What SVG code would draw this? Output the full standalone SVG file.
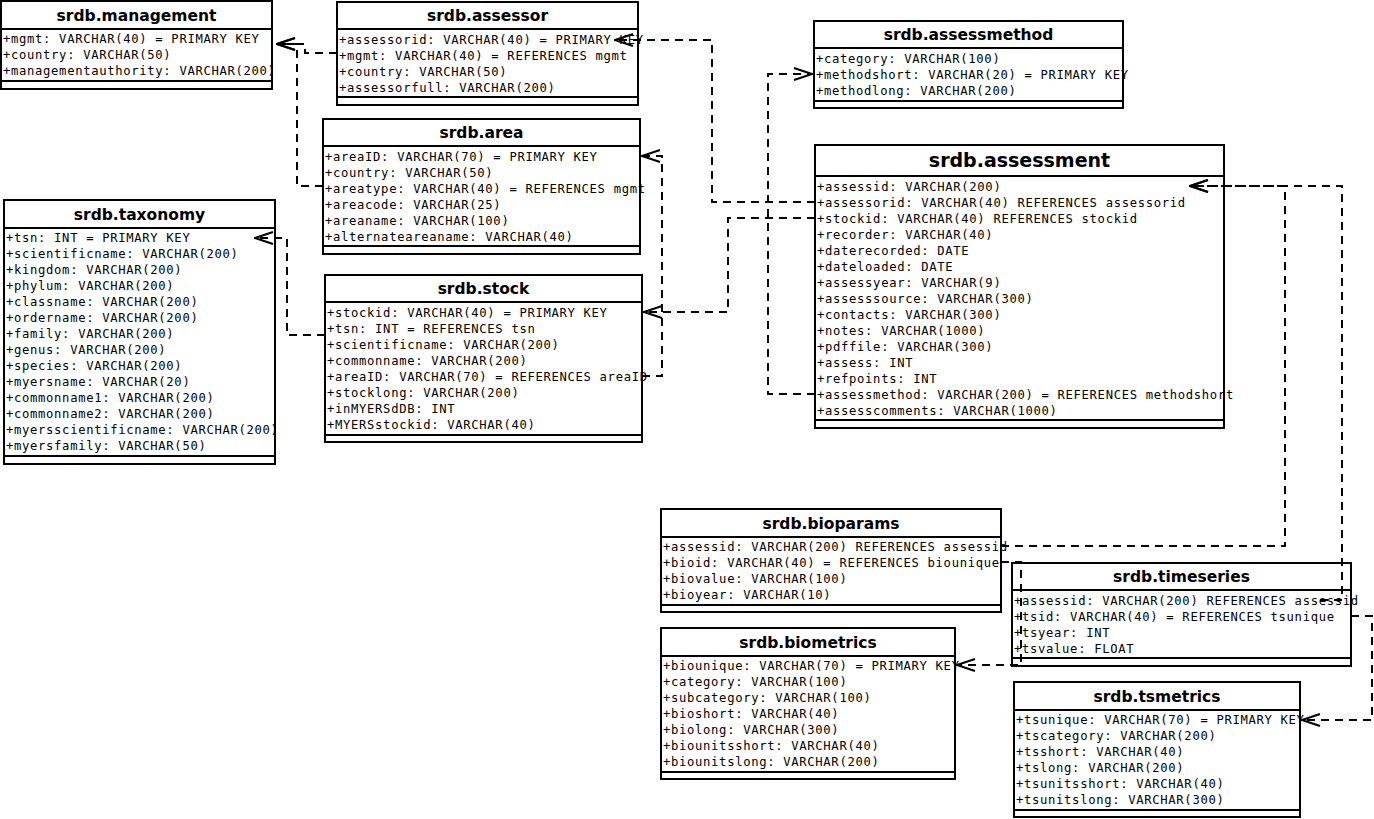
<svg xmlns="http://www.w3.org/2000/svg" width="1374" height="819" viewBox="0 0 1374 819">
<style>
.box{fill:#fff;stroke:#000;stroke-width:2}
.sep{stroke:#000;stroke-width:2}
.t{font-family:"DejaVu Sans","Liberation Sans",sans-serif;font-weight:bold;font-size:15.5px;text-anchor:middle;fill:#000}
.a{font-family:"DejaVu Sans Mono","Liberation Mono",monospace;font-size:12.2px;letter-spacing:0.68px;fill:#000}
.c{fill:none;stroke:#000;stroke-width:2;stroke-dasharray:8,6}
</style>
<defs>
<marker id="arr" viewBox="0 0 20 14" refX="19" refY="7" markerWidth="20" markerHeight="14" markerUnits="userSpaceOnUse" orient="auto">
<path d="M1,1 L19,7 L1,13" fill="none" stroke="#000" stroke-width="2" stroke-dasharray="none"/>
</marker>
</defs>

<g id="management">
<rect class="box" x="1" y="1" width="271" height="88"/>
<line class="sep" x1="1" y1="29" x2="272" y2="29"/>
<line class="sep" x1="1" y1="81" x2="272" y2="81"/>
<text class="t" x="136.5" y="20.5">srdb.management</text>
<text class="a" x="3" y="42.5">+mgmt: VARCHAR(40) = PRIMARY KEY</text>
<text class="a" x="3" y="58.5">+country: VARCHAR(50)</text>
<text class="a" x="3" y="74.5">+managementauthority: VARCHAR(200)</text>
</g>

<g id="assessor">
<rect class="box" x="337" y="2" width="301" height="103"/>
<line class="sep" x1="337" y1="29" x2="638" y2="29"/>
<line class="sep" x1="337" y1="97" x2="638" y2="97"/>
<text class="t" x="487.5" y="21">srdb.assessor</text>
<text class="a" x="339" y="43.5">+assessorid: VARCHAR(40) = PRIMARY KEY</text>
<text class="a" x="339" y="59.5">+mgmt: VARCHAR(40) = REFERENCES mgmt</text>
<text class="a" x="339" y="75.5">+country: VARCHAR(50)</text>
<text class="a" x="339" y="91.5">+assessorfull: VARCHAR(200)</text>
</g>

<g id="area">
<rect class="box" x="323" y="119" width="317" height="135"/>
<line class="sep" x1="323" y1="146" x2="640" y2="146"/>
<line class="sep" x1="323" y1="246" x2="640" y2="246"/>
<text class="t" x="481.5" y="138">srdb.area</text>
<text class="a" x="325" y="160.5">+areaID: VARCHAR(70) = PRIMARY KEY</text>
<text class="a" x="325" y="176.5">+country: VARCHAR(50)</text>
<text class="a" x="325" y="192.5">+areatype: VARCHAR(40) = REFERENCES mgmt</text>
<text class="a" x="325" y="208.5">+areacode: VARCHAR(25)</text>
<text class="a" x="325" y="224.5">+areaname: VARCHAR(100)</text>
<text class="a" x="325" y="240.5">+alternateareaname: VARCHAR(40)</text>
</g>

<g id="taxonomy">
<rect class="box" x="4" y="200" width="271" height="264"/>
<line class="sep" x1="4" y1="228" x2="275" y2="228"/>
<line class="sep" x1="4" y1="456" x2="275" y2="456"/>
<text class="t" x="139.5" y="219.5">srdb.taxonomy</text>
<text class="a" x="6" y="241.5">+tsn: INT = PRIMARY KEY</text>
<text class="a" x="6" y="257.5">+scientificname: VARCHAR(200)</text>
<text class="a" x="6" y="273.5">+kingdom: VARCHAR(200)</text>
<text class="a" x="6" y="289.5">+phylum: VARCHAR(200)</text>
<text class="a" x="6" y="305.5">+classname: VARCHAR(200)</text>
<text class="a" x="6" y="321.5">+ordername: VARCHAR(200)</text>
<text class="a" x="6" y="337.5">+family: VARCHAR(200)</text>
<text class="a" x="6" y="353.5">+genus: VARCHAR(200)</text>
<text class="a" x="6" y="369.5">+species: VARCHAR(200)</text>
<text class="a" x="6" y="385.5">+myersname: VARCHAR(20)</text>
<text class="a" x="6" y="401.5">+commonname1: VARCHAR(200)</text>
<text class="a" x="6" y="417.5">+commonname2: VARCHAR(200)</text>
<text class="a" x="6" y="433.5">+myersscientificname: VARCHAR(200)</text>
<text class="a" x="6" y="449.5">+myersfamily: VARCHAR(50)</text>
</g>

<g id="stock">
<rect class="box" x="325" y="275" width="317" height="167"/>
<line class="sep" x1="325" y1="302" x2="642" y2="302"/>
<line class="sep" x1="325" y1="435" x2="642" y2="435"/>
<text class="t" x="483.5" y="294">srdb.stock</text>
<text class="a" x="327" y="316.5">+stockid: VARCHAR(40) = PRIMARY KEY</text>
<text class="a" x="327" y="332.5">+tsn: INT = REFERENCES tsn</text>
<text class="a" x="327" y="348.5">+scientificname: VARCHAR(200)</text>
<text class="a" x="327" y="364.5">+commonname: VARCHAR(200)</text>
<text class="a" x="327" y="380.5">+areaID: VARCHAR(70) = REFERENCES areaID</text>
<text class="a" x="327" y="396.5">+stocklong: VARCHAR(200)</text>
<text class="a" x="327" y="412.5">+inMYERSdDB: INT</text>
<text class="a" x="327" y="428.5">+MYERSstockid: VARCHAR(40)</text>
</g>

<g id="assessmethod">
<rect class="box" x="814" y="21" width="309" height="87"/>
<line class="sep" x1="814" y1="48" x2="1123" y2="48"/>
<line class="sep" x1="814" y1="101" x2="1123" y2="101"/>
<text class="t" x="968.5" y="40">srdb.assessmethod</text>
<text class="a" x="816" y="62.5">+category: VARCHAR(100)</text>
<text class="a" x="816" y="78.5">+methodshort: VARCHAR(20) = PRIMARY KEY</text>
<text class="a" x="816" y="94.5">+methodlong: VARCHAR(200)</text>
</g>

<g id="assessment">
<rect class="box" x="815" y="145" width="409" height="283"/>
<line class="sep" x1="815" y1="176" x2="1224" y2="176"/>
<line class="sep" x1="815" y1="420" x2="1224" y2="420"/>
<text class="t" x="1019.5" y="167" style="font-size:19px">srdb.assessment</text>
<text class="a" x="817" y="190.5">+assessid: VARCHAR(200)</text>
<text class="a" x="817" y="206.5">+assessorid: VARCHAR(40) REFERENCES assessorid</text>
<text class="a" x="817" y="222.5">+stockid: VARCHAR(40) REFERENCES stockid</text>
<text class="a" x="817" y="238.5">+recorder: VARCHAR(40)</text>
<text class="a" x="817" y="254.5">+daterecorded: DATE</text>
<text class="a" x="817" y="270.5">+dateloaded: DATE</text>
<text class="a" x="817" y="286.5">+assessyear: VARCHAR(9)</text>
<text class="a" x="817" y="302.5">+assesssource: VARCHAR(300)</text>
<text class="a" x="817" y="318.5">+contacts: VARCHAR(300)</text>
<text class="a" x="817" y="334.5">+notes: VARCHAR(1000)</text>
<text class="a" x="817" y="350.5">+pdffile: VARCHAR(300)</text>
<text class="a" x="817" y="366.5">+assess: INT</text>
<text class="a" x="817" y="382.5">+refpoints: INT</text>
<text class="a" x="817" y="398.5">+assessmethod: VARCHAR(200) = REFERENCES methodshort</text>
<text class="a" x="817" y="414.5">+assesscomments: VARCHAR(1000)</text>
</g>

<g id="bioparams">
<rect class="box" x="661" y="509" width="340" height="103"/>
<line class="sep" x1="661" y1="537" x2="1001" y2="537"/>
<line class="sep" x1="661" y1="605" x2="1001" y2="605"/>
<text class="t" x="831" y="528.5">srdb.bioparams</text>
<text class="a" x="663" y="550.5">+assessid: VARCHAR(200) REFERENCES assessid</text>
<text class="a" x="663" y="566.5">+bioid: VARCHAR(40) = REFERENCES biounique</text>
<text class="a" x="663" y="582.5">+biovalue: VARCHAR(100)</text>
<text class="a" x="663" y="598.5">+bioyear: VARCHAR(10)</text>
</g>

<g id="timeseries">
<rect class="box" x="1012" y="563" width="339" height="103"/>
<line class="sep" x1="1012" y1="590" x2="1351" y2="590"/>
<line class="sep" x1="1012" y1="658" x2="1351" y2="658"/>
<text class="t" x="1181.5" y="582">srdb.timeseries</text>
<text class="a" x="1014" y="604.5">+assessid: VARCHAR(200) REFERENCES assessid</text>
<text class="a" x="1014" y="620.5">+tsid: VARCHAR(40) = REFERENCES tsunique</text>
<text class="a" x="1014" y="636.5">+tsyear: INT</text>
<text class="a" x="1014" y="652.5">+tsvalue: FLOAT</text>
</g>

<g id="biometrics">
<rect class="box" x="661" y="628" width="294" height="151"/>
<line class="sep" x1="661" y1="656" x2="955" y2="656"/>
<line class="sep" x1="661" y1="772" x2="955" y2="772"/>
<text class="t" x="808" y="647.5">srdb.biometrics</text>
<text class="a" x="663" y="669.5">+biounique: VARCHAR(70) = PRIMARY KEY</text>
<text class="a" x="663" y="685.5">+category: VARCHAR(100)</text>
<text class="a" x="663" y="701.5">+subcategory: VARCHAR(100)</text>
<text class="a" x="663" y="717.5">+bioshort: VARCHAR(40)</text>
<text class="a" x="663" y="733.5">+biolong: VARCHAR(300)</text>
<text class="a" x="663" y="749.5">+biounitsshort: VARCHAR(40)</text>
<text class="a" x="663" y="765.5">+biounitslong: VARCHAR(200)</text>
</g>

<g id="tsmetrics">
<rect class="box" x="1014" y="682" width="286" height="135"/>
<line class="sep" x1="1014" y1="710" x2="1300" y2="710"/>
<line class="sep" x1="1014" y1="810" x2="1300" y2="810"/>
<text class="t" x="1157" y="701.5">srdb.tsmetrics</text>
<text class="a" x="1016" y="723.5">+tsunique: VARCHAR(70) = PRIMARY KEY</text>
<text class="a" x="1016" y="739.5">+tscategory: VARCHAR(200)</text>
<text class="a" x="1016" y="755.5">+tsshort: VARCHAR(40)</text>
<text class="a" x="1016" y="771.5">+tslong: VARCHAR(200)</text>
<text class="a" x="1016" y="787.5">+tsunitsshort: VARCHAR(40)</text>
<text class="a" x="1016" y="803.5">+tsunitslong: VARCHAR(300)</text>
</g>

<g id="connectors">
<path class="c" d="M337,53 H305 V44 H277" marker-end="url(#arr)"/>
<path class="c" d="M323,186 H297 V44 H277" marker-end="url(#arr)"/>
<path class="c" d="M815,202 H712 V40 H615" marker-end="url(#arr)"/>
<path class="c" d="M815,218 H728 V312 H644" marker-end="url(#arr)"/>
<path class="c" d="M642,376 H662 V156 H642" marker-end="url(#arr)"/>
<path class="c" d="M325,335 H287 V238 H255" marker-end="url(#arr)"/>
<path class="c" d="M815,394 H768 V74 H812" marker-end="url(#arr)"/>
<path class="c" d="M1001,546 H1285 V186 H1190" marker-end="url(#arr)"/>
<path class="c" d="M1320,600 H1342 V186 H1190" marker-end="url(#arr)"/>
<path class="c" d="M1001,562 H1021 V665 H957" marker-end="url(#arr)"/>
<path class="c" d="M1351,616 H1372 V720 H1302" marker-end="url(#arr)"/>
</g>
</svg>
